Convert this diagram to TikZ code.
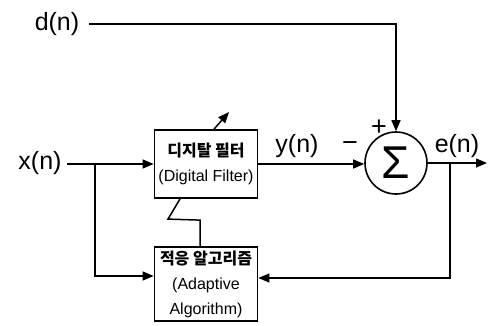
\documentclass[tikz,border=0pt]{standalone}
\usepackage{fontspec}
\setmainfont{Liberation Sans}
\newfontfamily\kor{Noto Sans CJK KR}
\usetikzlibrary{arrows.meta,positioning}
\tikzset{
  blok/.style={
    draw,
    line width=1.8pt,
    align=center,
    minimum width=103pt,
    inner sep=2pt,
    font=\fontsize{16}{25}\selectfont
  },
  sumnode/.style={
    draw,
    circle,
    line width=1.6pt,
    minimum size=62pt,
    inner sep=0pt,
    font=\fontsize{46}{46}\selectfont
  },
  sig/.style={
    inner sep=0pt,
    font=\fontsize{25}{25}\selectfont
  },
  sgn/.style={
    inner sep=0pt,
    font=\fontsize{27}{27}\selectfont
  },
  wire/.style={
    line width=1.5pt
  },
  arrow/.style={
    -{Triangle[length=11pt,width=9pt]},
    line width=1.5pt
  }
}

\begin{document}
\begin{tikzpicture}[x=1pt,y=-1pt]
\useasboundingbox (0,0) rectangle (491,325);
\node[sig] (d) at (57,24) {d(n)};
\node[sig] (x) at (40,163) {x(n)};
\node[blok, minimum height=68pt] (filt) at (206,164) {{\kor\bfseries 디지탈 필터}\\(Digital Filter)};
\node[blok, minimum height=74pt] (adapt) at (206,284) {{\kor\bfseries 적응 알고리즘}\\(Adaptive\\Algorithm)};
\node[sumnode] (sum) at (396,163) {Σ};
\node[sig] (y) at (297,146) {y(n)};
\node[sig] (e) at (457,146) {e(n)};
\node[sgn] (minus) at (350,147) {−};
\node[sgn] (plus) at (379,128) {+};
\coordinate (bx) at (95,164);
\coordinate (be) at (450,163);
\coordinate (out) at (487,163);
% signal paths
\draw[arrow] ([xshift=10pt]d.east) -| (sum.north);
\draw[arrow] ([xshift=5pt]x.east |- filt.west) -- (filt.west);
\draw[arrow] (filt.east) -- (filt.east -| sum.west);
\draw[arrow] (sum.east) -- (out);
\draw[arrow] (bx) |- ([yshift=8pt]adapt.west);
\draw[arrow] (be) |- ([yshift=6pt]adapt.east);
% weight update
\draw[arrow] ([xshift=8pt]filt.north) -- ++(15,-17);
\draw[wire] ([xshift=-6pt]adapt.north) -- ++(0,-26) -- ++(-32,-1) -- ([xshift=-26pt]filt.south);
\end{tikzpicture}
\end{document}
